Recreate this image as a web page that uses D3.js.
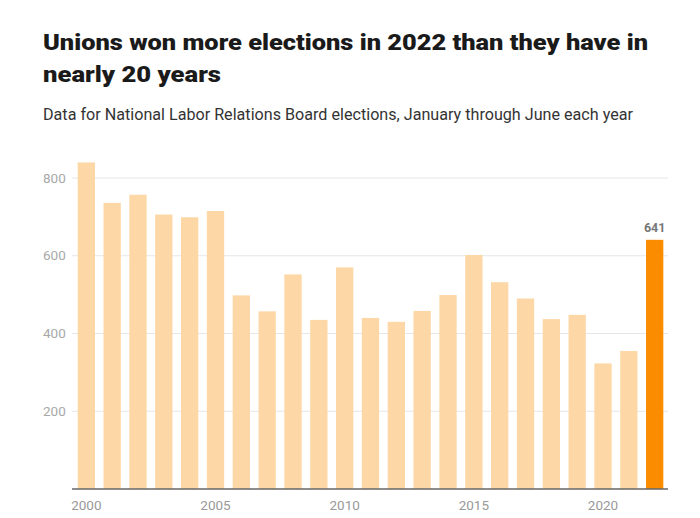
<!DOCTYPE html>
<html><head><meta charset="utf-8">
<script src="https://cdn.jsdelivr.net/npm/d3@7/dist/d3.min.js"></script>
<style>
html,body{margin:0;padding:0;background:#fff;}
svg{display:block;}
</style></head>
<body>
<svg id="chart" width="700" height="518"></svg>
<script>
const years = [2000,2001,2002,2003,2004,2005,2006,2007,2008,2009,2010,2011,2012,2013,2014,2015,2016,2017,2018,2019,2020,2021,2022];
const wins = [840,736,757,706,699,715,498,457,552,435,570,440,430,458,499,602,532,490,437,448,323,355,641];
const yTicks = [200,400,600,800];
const xTickYears = [2000,2005,2010,2015,2020];
const highlightYear = 2022;
const titleLines = ["Unions won more elections in 2022 than they have in","nearly 20 years"];
const subtitle = "Data for National Labor Relations Board elections, January through June each year";

const svg = d3.select("#chart");
const titleWidths = [605, 178];

const x = d3.scaleBand().domain(years).range([72.5, 668.5]).paddingInner(0.33).paddingOuter(0.2);
const y = d3.scaleLinear().domain([0,800]).range([489, 178]);

// title
svg.append("g").selectAll("text").data(titleLines).join("text")
  .attr("x",43).attr("y",(d,i)=>49.5+i*32)
  .attr("font-family","Roboto, 'Noto Sans', sans-serif")
  .attr("font-weight",900).attr("font-size",22.5).attr("fill","#1a1a1a")
  .attr("textLength",(d,i)=>titleWidths[i]).attr("lengthAdjust","spacingAndGlyphs")
  .text(d=>d);

svg.append("text").attr("x",43).attr("y",119.5)
  .attr("font-family","Roboto, 'Noto Sans', sans-serif")
  .attr("font-weight",400).attr("font-size",16.5).attr("fill","#333")
  .attr("textLength",590).attr("lengthAdjust","spacingAndGlyphs")
  .text(subtitle);

// gridlines
svg.append("g").selectAll("line").data(yTicks).join("line")
  .attr("x1",72).attr("x2",668)
  .attr("y1",d=>y(d)).attr("y2",d=>y(d))
  .attr("stroke","#e6e6e6").attr("stroke-width",1);

// y labels
svg.append("g").selectAll("text").data(yTicks).join("text")
  .attr("x",43).attr("y",d=>y(d)).attr("dy","0.35em")
  .attr("font-family","Roboto, 'Noto Sans', sans-serif")
  .attr("font-size",13.5).attr("fill","#a8a8a8")
  .text(d=>d);

// bars
svg.append("g").selectAll("rect").data(years).join("rect")
  .attr("x",d=>x(d)).attr("width",x.bandwidth())
  .attr("y",(d,i)=>y(wins[i])).attr("height",(d,i)=>y(0)-y(wins[i]))
  .attr("fill",d=>d===highlightYear?"#fb8c00":"#fdd7a6");

// highlight label
const hi = years.indexOf(highlightYear);
svg.append("text").attr("x",x(highlightYear)+x.bandwidth()/2).attr("y",y(wins[hi])-8)
  .attr("text-anchor","middle")
  .attr("font-family","Roboto, 'Noto Sans', sans-serif")
  .attr("font-weight",700).attr("font-size",12.5).attr("fill","#777")
  .text(wins[hi]);

// x axis
const xAxis = d3.axisBottom(x).tickValues(xTickYears).tickSize(0).tickPadding(11);
const gx = svg.append("g").attr("transform",`translate(0,${y(0)})`).call(xAxis);
gx.select(".domain").attr("d","M72,0H668").attr("stroke","#666").attr("stroke-width",1.5);
gx.selectAll("text").attr("font-family","Roboto, 'Noto Sans', sans-serif")
  .attr("font-size",13.5).attr("fill","#999");
</script>
</body></html>
